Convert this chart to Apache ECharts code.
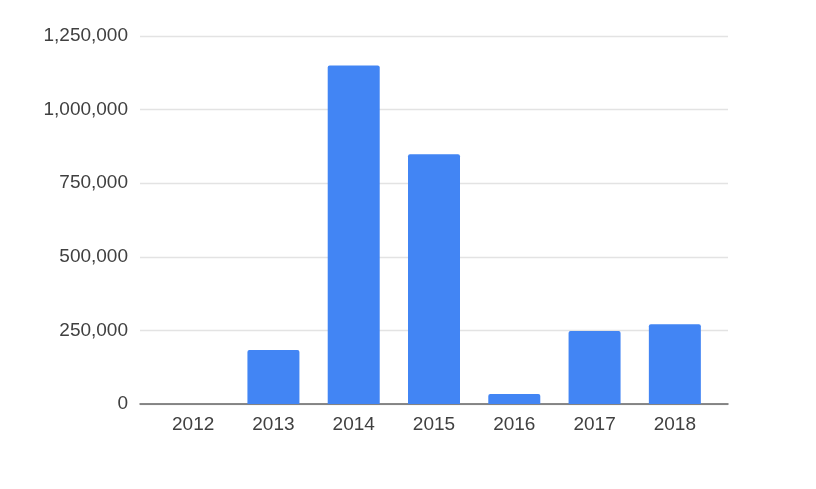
<!DOCTYPE html>
<html>
<head>
<meta charset="utf-8">
<script src="https://cdn.jsdelivr.net/npm/echarts@6/dist/echarts.min.js"></script>
<style>
  html, body { margin: 0; padding: 0; background: #fff; }
  #chart { width: 816px; height: 489px; }
</style>
</head>
<body>
<div id="chart"></div>
<script>
var years = ['2012', '2013', '2014', '2015', '2016', '2017', '2018'];
var values = [0, 183000, 1150000, 848000, 34000, 248000, 271000];
var yTicks = [0, 250000, 500000, 750000, 1000000, 1250000];

var myChart = echarts.init(document.getElementById('chart'));
var yMax = yTicks[yTicks.length - 1];
var yStep = yTicks[1] - yTicks[0];
var font = 'Arial, "Liberation Sans", sans-serif';

const option = {
    animation: false,
    grid: [
        // outer grid: gridlines + axis line span wider than the bars
        { left: 140, right: 88, top: 36, bottom: 85 },
        // inner grid: category bands
        { left: 153, right: 101, top: 36, bottom: 85 }
    ],
    xAxis: [
        {
            gridIndex: 0,
            type: 'category',
            data: years,
            axisLine: { lineStyle: { color: '#666', width: 1.5 } },
            axisTick: { show: false },
            axisLabel: { show: false }
        },
        {
            gridIndex: 1,
            type: 'category',
            data: years,
            axisLine: { show: false },
            axisTick: { show: false },
            axisLabel: {
                color: '#404040',
                fontSize: 19,
                fontFamily: font,
                margin: 11
            }
        }
    ],
    yAxis: [
        {
            gridIndex: 0,
            type: 'value',
            min: 0,
            max: yMax,
            interval: yStep,
            axisLine: { show: false },
            axisTick: { show: false },
            splitLine: { lineStyle: { color: '#e3e3e3', width: 1.3 } },
            axisLabel: {
                color: '#404040',
                fontSize: 19,
                fontFamily: font,
                margin: 12,
                formatter: function (v) { return v.toLocaleString('en-US'); }
            }
        },
        {
            gridIndex: 1,
            type: 'value',
            min: 0,
            max: yMax,
            interval: yStep,
            show: false
        }
    ],
    series: [
        {
            type: 'bar',
            xAxisIndex: 1,
            yAxisIndex: 1,
            data: values,
            barWidth: 52,
            itemStyle: { color: '#4285f4', borderRadius: [2, 2, 0, 0] }
        }
    ]
};

myChart.setOption(option);
</script>
</body>
</html>
